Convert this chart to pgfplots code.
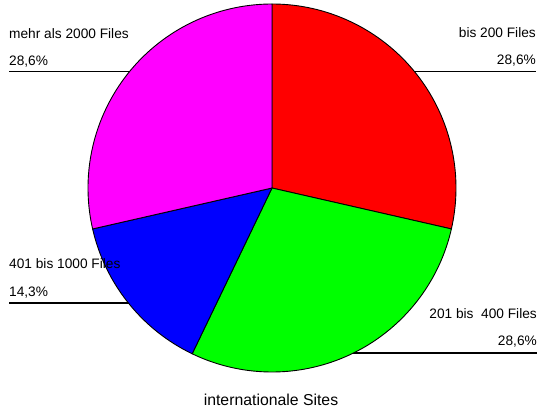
\documentclass[border=0pt]{standalone}
\usepackage{pgfplots}
\pgfplotsset{compat=1.18}
\usepackage{pgfplotstable}
\usepackage{fontspec}
\setmainfont{Liberation Sans}

\pgfplotstableread{
idx share
0 28.571
1 28.571
2 14.286
3 28.571
}\piedata

\definecolor{pred}{RGB}{255,0,0}
\definecolor{pgreen}{RGB}{0,255,0}
\definecolor{pblue}{RGB}{0,0,255}
\definecolor{pmag}{RGB}{255,0,255}

\begin{document}
\begin{tikzpicture}
\pgfplotstablegetelem{0}{share}\of\piedata \let\vA\pgfplotsretval
\pgfplotstablegetelem{1}{share}\of\piedata \let\vB\pgfplotsretval
\pgfplotstablegetelem{2}{share}\of\piedata \let\vC\pgfplotsretval
\pgfplotstablegetelem{3}{share}\of\piedata \let\vD\pgfplotsretval
\pgfmathsetmacro{\sA}{90}
\pgfmathsetmacro{\eA}{\sA-3.6*\vA}
\pgfmathsetmacro{\eB}{\eA-3.6*\vB}
\pgfmathsetmacro{\eC}{\eB-3.6*\vC}
\pgfmathsetmacro{\eD}{\eC-3.6*\vD}
\begin{axis}[
  hide axis, scale only axis,
  width=540bp, height=410bp,
  xmin=0, xmax=540, ymin=0, ymax=410,
  clip=false,
]
\path (axis cs:0,0) rectangle (axis cs:540,410);
% leader lines
\draw[black, line width=1.1bp] (axis cs:9,338.5) -- (axis cs:200,338.5);
\draw[black, line width=1.1bp] (axis cs:350,338.5) -- (axis cs:536,338.5);
\draw[black, line width=1.1bp] (axis cs:9,107) -- (axis cs:200,107);
\draw[black, line width=1.1bp] (axis cs:300,57) -- (axis cs:537,57);
% pie wedges
\filldraw[fill=pred, draw=black, line width=0.9bp]
  (axis cs:272,222) -- ++(\sA:184bp) arc[start angle=\sA, end angle=\eA, radius=184bp] -- cycle;
\filldraw[fill=pgreen, draw=black, line width=0.9bp]
  (axis cs:272,222) -- ++(\eA:184bp) arc[start angle=\eA, end angle=\eB, radius=184bp] -- cycle;
\filldraw[fill=pblue, draw=black, line width=0.9bp]
  (axis cs:272,222) -- ++(\eB:184bp) arc[start angle=\eB, end angle=\eC, radius=184bp] -- cycle;
\filldraw[fill=pmag, draw=black, line width=0.9bp]
  (axis cs:272,222) -- ++(\eC:184bp) arc[start angle=\eC, end angle=\eD, radius=184bp] -- cycle;
% labels
\tikzset{lab/.style={inner sep=0pt, font=\fontsize{13.7bp}{16bp}\selectfont}}
\node[lab, anchor=base west] at (axis cs:9,372) {mehr als 2000 Files};
\node[lab, anchor=base west] at (axis cs:9,345) {28,6\%};
\node[lab, anchor=base east] at (axis cs:536,373) {bis 200 Files};
\node[lab, anchor=base east] at (axis cs:536,346) {28,6\%};
\node[lab, anchor=base west] at (axis cs:9,142) {401 bis 1000 Files};
\node[lab, anchor=base west] at (axis cs:9,114) {14,3\%};
\node[lab, anchor=base east] at (axis cs:537,92) {201 bis\ \ 400 Files};
\node[lab, anchor=base east] at (axis cs:537,65) {28,6\%};
\node[inner sep=0pt, anchor=base, font=\fontsize{15.8bp}{19bp}\selectfont] at (axis cs:271,5) {internationale Sites};
\end{axis}
\end{tikzpicture}
\end{document}
